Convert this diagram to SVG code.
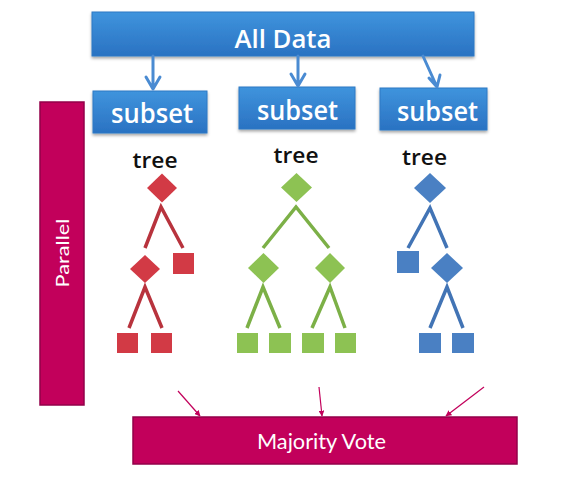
<svg xmlns="http://www.w3.org/2000/svg" width="574" height="484" viewBox="0 0 574 484">
<defs>
<linearGradient id="blueG" x1="0" y1="0" x2="0" y2="1">
<stop offset="0" stop-color="#3f94dd"/>
<stop offset="1" stop-color="#2a72c2"/>
</linearGradient>
<filter id="sh" x="-10%" y="-20%" width="120%" height="150%">
<feDropShadow dx="0" dy="2" stdDeviation="1.5" flood-color="#000" flood-opacity="0.35"/>
</filter>
<marker id="mag" viewBox="0 0 10 10" refX="9" refY="5" markerWidth="6" markerHeight="6" orient="auto" markerUnits="userSpaceOnUse">
<path d="M0,0 L10,5 L0,10 z" fill="#c2005b"/>
</marker>
</defs>
<style>
.bbox{fill:url(#blueG);stroke:#2f78c4;stroke-width:1;filter:url(#sh)}
.btxt{font-family:"Open Sans","Liberation Sans",Arial,sans-serif;fill:#fff;text-anchor:middle;font-weight:600}
.barr{fill:none;stroke:#4a8bd2;stroke-width:3;stroke-linecap:round;stroke-linejoin:round}
.ttxt{font-family:"Open Sans","Liberation Sans",Arial,sans-serif;fill:#111;font-size:22px;font-weight:600;text-anchor:middle}
.mbox{fill:#c2005b;stroke:#93004a;stroke-width:1.5}
.mtxt{font-family:"Lato","Liberation Sans",sans-serif;fill:#fff;text-anchor:middle}
.marr{fill:none;stroke:#c2005b;stroke-width:1.2}
.red{fill:#d23a45}.redl{stroke:#b8333d;stroke-width:3.5;fill:none}
.grn{fill:#8dc253}.grnl{stroke:#7cb047;stroke-width:3.5;fill:none}
.blu{fill:#4a80c3}.blul{stroke:#4274b5;stroke-width:3.5;fill:none}
</style>

<g id="allData">
<rect class="bbox" x="92" y="12" width="382" height="44"/>
<text class="btxt" x="283" y="48" font-size="25" textLength="97" lengthAdjust="spacingAndGlyphs">All Data</text>
</g>
<g id="subset1">
<rect class="bbox" x="93" y="91" width="114" height="42"/>
<text class="btxt" x="152" y="123" font-size="27" textLength="82" lengthAdjust="spacingAndGlyphs">subset</text>
</g>
<g id="subset2">
<rect class="bbox" x="239" y="87" width="116" height="42"/>
<text class="btxt" x="297.5" y="120" font-size="27" textLength="81" lengthAdjust="spacingAndGlyphs">subset</text>
</g>
<g id="subset3">
<rect class="bbox" x="380" y="88" width="107" height="42"/>
<text class="btxt" x="437.5" y="121" font-size="27" textLength="81" lengthAdjust="spacingAndGlyphs">subset</text>
</g>

<g id="treeRed">
<text class="ttxt" x="155" y="168" textLength="45" lengthAdjust="spacingAndGlyphs">tree</text>
<polygon class="red" points="162,173.5 177,188 162,202.5 147,188"/>
<path class="redl" d="M145,248 L161,207 L183,248"/>
<polygon class="red" points="145,255 160,269 145,283 130,269"/>
<rect class="red" x="173" y="253" width="21" height="21"/>
<path class="redl" d="M129,328 L145,287 L162,328"/>
<rect class="red" x="117" y="333" width="21" height="20"/>
<rect class="red" x="151" y="333" width="21" height="20"/>
</g>

<g id="treeGreen">
<text class="ttxt" x="296" y="163" textLength="45" lengthAdjust="spacingAndGlyphs">tree</text>
<polygon class="grn" points="296.5,173 312,187.5 296.5,202 281,187.5"/>
<path class="grnl" d="M263,248 L296,207 L329,248"/>
<polygon class="grn" points="263.5,253 279,268 263.5,283 248,268"/>
<polygon class="grn" points="330,253 345,268 330,283 315,268"/>
<path class="grnl" d="M247,328 L263,287 L280,328"/>
<path class="grnl" d="M312,328 L330,287 L345,328"/>
<rect class="grn" x="237" y="333" width="21" height="20"/>
<rect class="grn" x="269" y="333" width="22" height="20"/>
<rect class="grn" x="302" y="333" width="22" height="20"/>
<rect class="grn" x="335" y="333" width="21" height="20"/>
</g>

<g id="treeBlue">
<text class="ttxt" x="424.5" y="165" textLength="45" lengthAdjust="spacingAndGlyphs">tree</text>
<polygon class="blu" points="430,173 446,188 430,203 414,188"/>
<path class="blul" d="M408,248 L430,208 L447,248"/>
<rect class="blu" x="397" y="251" width="22" height="22"/>
<polygon class="blu" points="447,253 463,268 447,283 431,268"/>
<path class="blul" d="M430,328 L447,287 L463,328"/>
<rect class="blu" x="419" y="333" width="22" height="20"/>
<rect class="blu" x="452" y="333" width="22" height="20"/>
</g>

<g id="parallel">
<rect class="mbox" x="40" y="102" width="44" height="303"/>
<text class="mtxt" x="0" y="0" font-size="18" textLength="69" lengthAdjust="spacingAndGlyphs" transform="translate(69,253) rotate(-90)">Parallel</text>
</g>

<g id="majorityVote">
<rect class="mbox" x="133" y="417" width="384" height="47"/>
<text class="mtxt" x="321.5" y="449" font-size="22" textLength="129" lengthAdjust="spacingAndGlyphs">Majority Vote</text>
</g>

<g id="connectors">
<path class="barr" d="M153,56 L153,89 M146,77 L153,89 L160,77"/>
<path class="barr" d="M298,56 L298,86 M291,74 L298,86 L305,74"/>
<path class="barr" d="M423,56 L437,87 M429,78 L437,87 L440,75"/>
<line class="marr" x1="178" y1="391" x2="200" y2="416" marker-end="url(#mag)"/>
<line class="marr" x1="319" y1="387" x2="322" y2="416" marker-end="url(#mag)"/>
<line class="marr" x1="484" y1="387" x2="446" y2="416" marker-end="url(#mag)"/>
</g>
</svg>
